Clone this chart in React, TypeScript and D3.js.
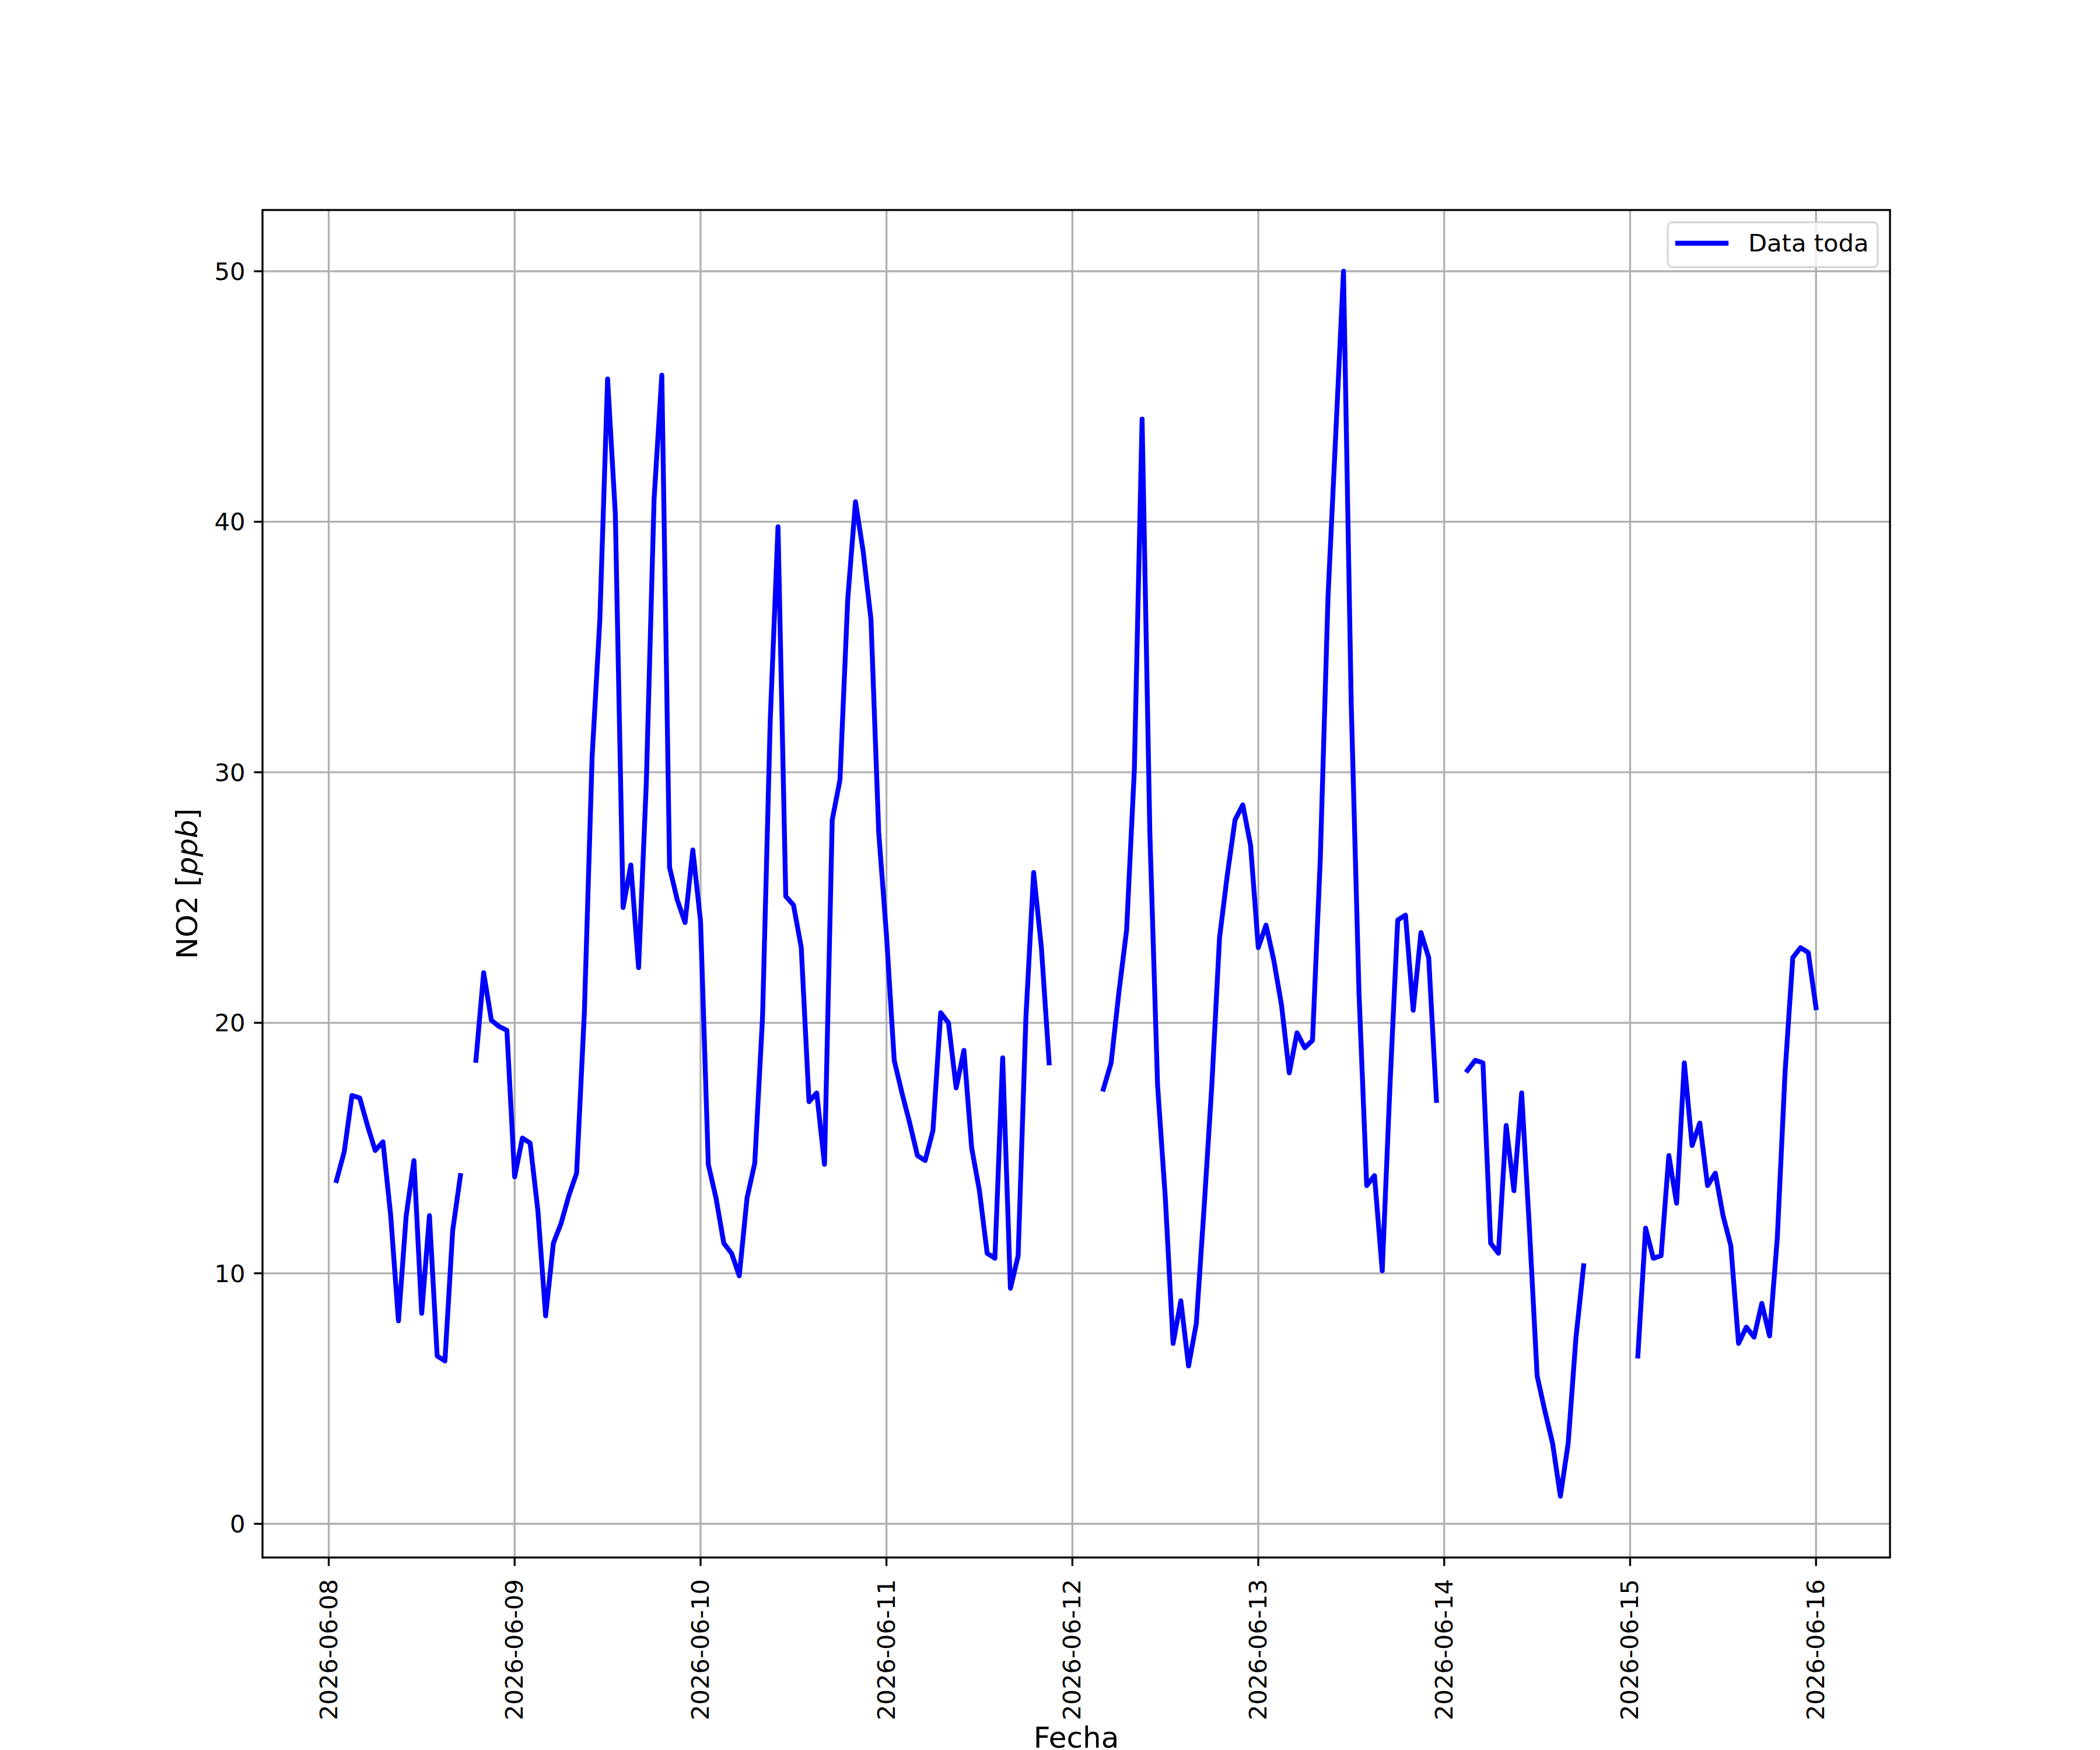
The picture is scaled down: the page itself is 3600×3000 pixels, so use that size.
import React from "react";
import * as d3 from "d3";

// hourly NO2 readings, one array per day (00:00 .. 23:00), null = no data
const day0608 = [null, 13.7, 14.85, 17.1, 17.0, 15.9, 14.9, 15.25, 12.3, 8.1, 12.3, 14.5, 8.4, 12.3, 6.7, 6.5, 11.7, 13.9, null, 18.5, 22.0, 20.1, 19.85, 19.7];
const day0609 = [13.85, 15.4, 15.2, 12.5, 8.3, 11.2, 12.0, 13.1, 14.0, 20.4, 30.6, 36.1, 45.7, 40.3, 24.6, 26.3, 22.2, 29.6, 40.9, 45.85, 26.2, 24.9, 24.0, 26.9];
const day0610 = [24.05, 14.35, 13.0, 11.2, 10.8, 9.9, 13.0, 14.4, 20.2, 32.1, 39.8, 25.05, 24.7, 23.0, 16.85, 17.2, 14.35, 28.1, 29.7, 36.9, 40.8, 38.8, 36.1, 27.6];
const day0611 = [23.5, 18.5, 17.2, 16.0, 14.7, 14.5, 15.7, 20.4, 20.0, 17.4, 18.9, 15.0, 13.3, 10.8, 10.6, 18.6, 9.4, 10.7, 20.2, 26.0, 23.0, 18.4, null, null];
const day0612 = [null, null, null, null, 17.35, 18.4, 21.2, 23.7, 30.1, 44.1, 27.6, 17.5, 13.0, 7.2, 8.9, 6.3, 8.0, 12.6, 17.5, 23.4, 25.9, 28.1, 28.7, 27.1];
const day0613 = [23.0, 23.9, 22.5, 20.7, 18.0, 19.6, 19.0, 19.3, 26.5, 37.0, 43.5, 50.0, 32.7, 21.2, 13.5, 13.9, 10.1, 17.5, 24.1, 24.3, 20.5, 23.6, 22.6, 16.9];
const day0614 = [null, null, null, 18.1, 18.5, 18.4, 11.2, 10.8, 15.9, 13.3, 17.2, 11.8, 5.9, 4.5, 3.2, 1.1, 3.2, 7.4, 10.3, null, null, null, null, null];
const day0615 = [null, 6.7, 11.8, 10.6, 10.7, 14.7, 12.8, 18.4, 15.1, 16.0, 13.5, 14.0, 12.3, 11.1, 7.2, 7.85, 7.45, 8.8, 7.5, 11.4, 18.0, 22.6, 23.0, 22.8];
const day0616 = [20.6];

const dayLabels = ["2026-06-08", "2026-06-09", "2026-06-10", "2026-06-11", "2026-06-12", "2026-06-13", "2026-06-14", "2026-06-15", "2026-06-16"];
const dayValues = [day0608, day0609, day0610, day0611, day0612, day0613, day0614, day0615, day0616];
const yTicks = [0, 10, 20, 30, 40, 50];

const seriesName = "Data toda";
const xTitle = "Fecha";

interface Point {
    t: Date;
    v: number | null;
}

const parseDay = d3.utcParse("%Y-%m-%d");
const formatDay = d3.utcFormat("%Y-%m-%d");

const points: Point[] = [];
dayLabels.forEach((day, i) => {
    const start = parseDay(day) as Date;
    dayValues[i].forEach((v, h) => {
        points.push({ t: d3.utcHour.offset(start, h), v: v });
    });
});

const W = 3600;
const H = 3000;
const left = 450, right = 3240, top = 360, bottom = 2670;
const font = "DejaVu Sans";
const tickSize = 41.67;
const labelSize = 50;
const lw = 3.33;

export default function App() {
    const valid = points.filter(p => p.v != null);
    const tExtent = d3.extent(valid, p => p.t) as [Date, Date];
    const tPad = (tExtent[1].getTime() - tExtent[0].getTime()) * 0.05;
    const xScale = d3.scaleUtc()
        .domain([new Date(tExtent[0].getTime() - tPad), new Date(tExtent[1].getTime() + tPad)])
        .range([left, right]);

    const vExtent = d3.extent(valid, p => p.v as number) as [number, number];
    const vPad = (vExtent[1] - vExtent[0]) * 0.05;
    const yScale = d3.scaleLinear()
        .domain([vExtent[0] - vPad, vExtent[1] + vPad])
        .range([bottom, top]);

    const line = d3.line<Point>()
        .defined(p => p.v != null)
        .x(p => xScale(p.t))
        .y(p => yScale(p.v as number));

    const xTicks = dayLabels.map(d => parseDay(d) as Date);

    return (
        <svg width={W} height={H} style={{ position: "absolute", left: 0, top: 0, background: "white" }}
            fontFamily={font}>
            <rect x={0} y={0} width={W} height={H} fill="white" />
            <defs>
                <clipPath id="plotArea">
                    <rect x={left} y={top} width={right - left} height={bottom - top} />
                </clipPath>
            </defs>

            {/* grid */}
            <g stroke="#b0b0b0" strokeWidth={lw}>
                {xTicks.map((t, i) => (
                    <line key={"gx" + i} x1={xScale(t)} x2={xScale(t)} y1={top} y2={bottom} />
                ))}
                {yTicks.map(v => (
                    <line key={"gy" + v} x1={left} x2={right} y1={yScale(v)} y2={yScale(v)} />
                ))}
            </g>

            <path d={line(points) || ""} fill="none" stroke="#0000ff" strokeWidth={8.33}
                strokeLinejoin="round" strokeLinecap="square" clipPath="url(#plotArea)" />

            {/* frame */}
            <rect x={left} y={top} width={right - left} height={bottom - top} fill="none"
                stroke="black" strokeWidth={lw} />

            {/* x axis */}
            {xTicks.map((t, i) => (
                <g key={"xt" + i}>
                    <line x1={xScale(t)} x2={xScale(t)} y1={bottom} y2={bottom + 14.58} stroke="black" strokeWidth={lw} />
                    <text transform={`translate(${xScale(t) + 14},${bottom + 37}) rotate(-90)`}
                        textAnchor="end" fontSize={tickSize}>{formatDay(t)}</text>
                </g>
            ))}

            {/* y axis */}
            {yTicks.map(v => (
                <g key={"yt" + v}>
                    <line x1={left - 14.58} x2={left} y1={yScale(v)} y2={yScale(v)} stroke="black" strokeWidth={lw} />
                    <text x={left - 29.5} y={yScale(v) + 15} textAnchor="end" fontSize={tickSize}>{v}</text>
                </g>
            ))}

            <text x={(left + right) / 2} y={2996} textAnchor="middle" fontSize={labelSize}>{xTitle}</text>
            <text transform={`translate(338,${(top + bottom) / 2}) rotate(-90)`} textAnchor="middle" fontSize={labelSize}>
                NO2 [<tspan fontStyle="italic">ppb</tspan>]
            </text>

            {/* legend */}
            <g>
                <rect x={right - 381} y={top + 21} width={360} height={77} rx={8} ry={8}
                    fill="white" fillOpacity={0.8} stroke="#cccccc" strokeOpacity={0.8} strokeWidth={lw} />
                <line x1={right - 364} x2={right - 281} y1={top + 57} y2={top + 57} stroke="#0000ff" strokeWidth={8.33} strokeLinecap="square" />
                <text x={right - 243} y={top + 71} fontSize={tickSize}>{seriesName}</text>
            </g>
        </svg>
    );
}
